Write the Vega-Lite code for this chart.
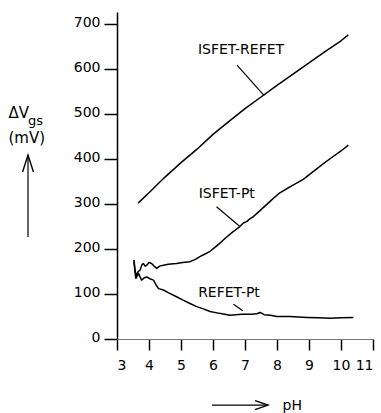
{
  "$schema": "https://vega.github.io/schema/vega-lite/v6.json",
  "autosize": {"type": "none"},
  "padding": {"left": 117, "top": 12, "right": 8, "bottom": 74},
  "width": 256,
  "height": 327,
  "background": "white",
  "config": {
    "view": {"stroke": null},
    "font": "DejaVu Sans",
    "axisX": {"labelOverlap": false},
    "axisY": {"labelOverlap": false},
    "title": {"font": "DejaVu Sans", "fontSize": 13, "fontWeight": "normal", "color": "black"}
  },
  "title": {"text": "gs", "anchor": "start", "frame": "group", "orient": "top", "baseline": "alphabetic", "offset": 0, "dx": -89, "dy": 126},
  "datasets": {
    "curves": [
      {"s": "ISFET-REFET", "ph": 3.66, "mv": 302}, {"s": "ISFET-REFET", "ph": 4.0, "mv": 325}, {"s": "ISFET-REFET", "ph": 4.5, "mv": 360}, {"s": "ISFET-REFET", "ph": 5.0, "mv": 392}, {"s": "ISFET-REFET", "ph": 5.5, "mv": 422}, {"s": "ISFET-REFET", "ph": 6.0, "mv": 455}, {"s": "ISFET-REFET", "ph": 6.5, "mv": 484}, {"s": "ISFET-REFET", "ph": 7.0, "mv": 512}, {"s": "ISFET-REFET", "ph": 7.5, "mv": 538}, {"s": "ISFET-REFET", "ph": 8.0, "mv": 564}, {"s": "ISFET-REFET", "ph": 8.5, "mv": 589}, {"s": "ISFET-REFET", "ph": 9.0, "mv": 614}, {"s": "ISFET-REFET", "ph": 9.5, "mv": 639}, {"s": "ISFET-REFET", "ph": 10.0, "mv": 663}, {"s": "ISFET-REFET", "ph": 10.23, "mv": 676},
      {"s": "ISFET-Pt", "ph": 3.53, "mv": 176}, {"s": "ISFET-Pt", "ph": 3.57, "mv": 150}, {"s": "ISFET-Pt", "ph": 3.61, "mv": 142}, {"s": "ISFET-Pt", "ph": 3.66, "mv": 150}, {"s": "ISFET-Pt", "ph": 3.72, "mv": 153}, {"s": "ISFET-Pt", "ph": 3.78, "mv": 165}, {"s": "ISFET-Pt", "ph": 3.82, "mv": 168}, {"s": "ISFET-Pt", "ph": 3.88, "mv": 162}, {"s": "ISFET-Pt", "ph": 3.93, "mv": 164}, {"s": "ISFET-Pt", "ph": 4.0, "mv": 170}, {"s": "ISFET-Pt", "ph": 4.08, "mv": 168}, {"s": "ISFET-Pt", "ph": 4.16, "mv": 162}, {"s": "ISFET-Pt", "ph": 4.24, "mv": 157}, {"s": "ISFET-Pt", "ph": 4.33, "mv": 162}, {"s": "ISFET-Pt", "ph": 4.45, "mv": 164}, {"s": "ISFET-Pt", "ph": 4.6, "mv": 166}, {"s": "ISFET-Pt", "ph": 4.86, "mv": 168}, {"s": "ISFET-Pt", "ph": 5.05, "mv": 170}, {"s": "ISFET-Pt", "ph": 5.28, "mv": 172}, {"s": "ISFET-Pt", "ph": 5.45, "mv": 177}, {"s": "ISFET-Pt", "ph": 5.59, "mv": 183}, {"s": "ISFET-Pt", "ph": 5.75, "mv": 189}, {"s": "ISFET-Pt", "ph": 5.91, "mv": 195}, {"s": "ISFET-Pt", "ph": 6.05, "mv": 203}, {"s": "ISFET-Pt", "ph": 6.2, "mv": 212}, {"s": "ISFET-Pt", "ph": 6.4, "mv": 225}, {"s": "ISFET-Pt", "ph": 6.6, "mv": 237}, {"s": "ISFET-Pt", "ph": 6.84, "mv": 250}, {"s": "ISFET-Pt", "ph": 6.95, "mv": 258}, {"s": "ISFET-Pt", "ph": 7.05, "mv": 261}, {"s": "ISFET-Pt", "ph": 7.15, "mv": 267}, {"s": "ISFET-Pt", "ph": 7.26, "mv": 272}, {"s": "ISFET-Pt", "ph": 7.4, "mv": 281}, {"s": "ISFET-Pt", "ph": 7.57, "mv": 292}, {"s": "ISFET-Pt", "ph": 7.8, "mv": 307}, {"s": "ISFET-Pt", "ph": 8.05, "mv": 323}, {"s": "ISFET-Pt", "ph": 8.3, "mv": 334}, {"s": "ISFET-Pt", "ph": 8.5, "mv": 342}, {"s": "ISFET-Pt", "ph": 8.82, "mv": 355}, {"s": "ISFET-Pt", "ph": 9.0, "mv": 365}, {"s": "ISFET-Pt", "ph": 9.2, "mv": 376}, {"s": "ISFET-Pt", "ph": 9.45, "mv": 390}, {"s": "ISFET-Pt", "ph": 9.7, "mv": 403}, {"s": "ISFET-Pt", "ph": 10.0, "mv": 418}, {"s": "ISFET-Pt", "ph": 10.23, "mv": 431},
      {"s": "REFET-Pt", "ph": 3.53, "mv": 172}, {"s": "REFET-Pt", "ph": 3.56, "mv": 150}, {"s": "REFET-Pt", "ph": 3.59, "mv": 135}, {"s": "REFET-Pt", "ph": 3.63, "mv": 140}, {"s": "REFET-Pt", "ph": 3.67, "mv": 146}, {"s": "REFET-Pt", "ph": 3.72, "mv": 138}, {"s": "REFET-Pt", "ph": 3.77, "mv": 131}, {"s": "REFET-Pt", "ph": 3.85, "mv": 136}, {"s": "REFET-Pt", "ph": 3.93, "mv": 138}, {"s": "REFET-Pt", "ph": 4.03, "mv": 134}, {"s": "REFET-Pt", "ph": 4.14, "mv": 131}, {"s": "REFET-Pt", "ph": 4.22, "mv": 120}, {"s": "REFET-Pt", "ph": 4.3, "mv": 112}, {"s": "REFET-Pt", "ph": 4.45, "mv": 109}, {"s": "REFET-Pt", "ph": 4.6, "mv": 103}, {"s": "REFET-Pt", "ph": 4.86, "mv": 94}, {"s": "REFET-Pt", "ph": 5.05, "mv": 87}, {"s": "REFET-Pt", "ph": 5.28, "mv": 79}, {"s": "REFET-Pt", "ph": 5.49, "mv": 72}, {"s": "REFET-Pt", "ph": 5.7, "mv": 67}, {"s": "REFET-Pt", "ph": 5.91, "mv": 61}, {"s": "REFET-Pt", "ph": 6.2, "mv": 57}, {"s": "REFET-Pt", "ph": 6.53, "mv": 53}, {"s": "REFET-Pt", "ph": 6.9, "mv": 55}, {"s": "REFET-Pt", "ph": 7.2, "mv": 55}, {"s": "REFET-Pt", "ph": 7.37, "mv": 56}, {"s": "REFET-Pt", "ph": 7.47, "mv": 59}, {"s": "REFET-Pt", "ph": 7.6, "mv": 54}, {"s": "REFET-Pt", "ph": 7.8, "mv": 53}, {"s": "REFET-Pt", "ph": 7.99, "mv": 50}, {"s": "REFET-Pt", "ph": 8.4, "mv": 50}, {"s": "REFET-Pt", "ph": 8.93, "mv": 48}, {"s": "REFET-Pt", "ph": 9.3, "mv": 47}, {"s": "REFET-Pt", "ph": 9.66, "mv": 46}, {"s": "REFET-Pt", "ph": 10.0, "mv": 47}, {"s": "REFET-Pt", "ph": 10.39, "mv": 48}
    ],
    "notes": [
      {"label": "ISFET-REFET", "ph": 6.875, "mv": 642},
      {"label": "ISFET-Pt", "ph": 6.43, "mv": 322},
      {"label": "REFET-Pt", "ph": 6.5, "mv": 102}
    ],
    "leaders": [
      {"ph": 6.75, "mv": 609, "ph2": 7.6, "mv2": 541},
      {"ph": 6.11, "mv": 294, "ph2": 6.84, "mv2": 250},
      {"ph": 6.64, "mv": 77, "ph2": 6.93, "mv2": 63}
    ],
    "arrows": [
      {"dir": "right", "ph": 5.97, "mv": -147, "ph2": 7.72, "mv2": -147},
      {"dir": "up", "ph": 0.219, "mv": 227, "ph2": 0.219, "mv2": 409}
    ]
  },
  "encoding": {
    "x": {"field": "ph", "type": "quantitative", "scale": {"domain": [3, 11], "nice": false, "zero": false},
      "axis": {"values": [3, 4, 5, 6, 7, 8, 9, 10, 11], "labelOverlap": false, "grid": false, "tickSize": 11, "tickWidth": 1.5, "tickColor": "black", "domainColor": "#777", "domainWidth": 1, "labelFontSize": 14, "labelColor": "black", "labelPadding": 8, "labelFont": "DejaVu Sans",
        "title": "pH", "titleFontSize": 14, "titleFontWeight": "normal", "titleColor": "black", "titleAlign": "left", "titleBaseline": "middle", "titleAnchor": "start", "titleX": 165, "titleY": 66, "titleFont": "DejaVu Sans"}},
    "y": {"field": "mv", "type": "quantitative", "scale": {"domain": [0, 727], "nice": false},
      "axis": {"values": [0, 100, 200, 300, 400, 500, 600, 700], "labelOverlap": false, "grid": false, "tickSize": 13, "tickWidth": 1.5, "tickColor": "black", "domainColor": "black", "domainWidth": 1.5, "labelFontSize": 14, "labelColor": "black", "labelPadding": 4, "labelBaseline": "middle", "labelOffset": -2, "labelFont": "DejaVu Sans",
        "title": ["ΔV", "(mV)"], "titleAngle": 0, "titleAlign": "left", "titleBaseline": "alphabetic", "titleX": -109, "titleY": 105, "titleFontSize": 15, "titleFontWeight": "normal", "titleColor": "black", "titleLineHeight": 25, "titleFont": "DejaVu Sans"}}
  },
  "layer": [
    {
      "data": {"name": "curves"},
      "mark": {"type": "line", "color": "black", "strokeWidth": 1.5, "strokeJoin": "round"},
      "encoding": {"detail": {"field": "s"}}
    },
    {
      "data": {"name": "notes"},
      "mark": {"type": "text", "fontSize": 14, "font": "DejaVu Sans", "align": "center", "baseline": "middle", "color": "black"},
      "encoding": {"text": {"field": "label"}}
    },
    {
      "data": {"name": "leaders"},
      "mark": {"type": "rule", "color": "black", "strokeWidth": 1.2},
      "encoding": {"x2": {"field": "ph2"}, "y2": {"field": "mv2"}}
    },
    {
      "data": {"name": "arrows"},
      "mark": {"type": "rule", "color": "black", "strokeWidth": 1.2},
      "encoding": {"x2": {"field": "ph2"}, "y2": {"field": "mv2"}}
    },
    {
      "data": {"name": "arrows"},
      "transform": [{"filter": "datum.dir === 'right'"}],
      "mark": {"type": "point", "shape": "M-1,-0.35L0,0L-1,0.35", "size": 676, "filled": false, "stroke": "black", "strokeWidth": 1.4, "opacity": 1},
      "encoding": {"x": {"field": "ph2", "type": "quantitative"}, "y": {"field": "mv2", "type": "quantitative"}}
    },
    {
      "data": {"name": "arrows"},
      "transform": [{"filter": "datum.dir === 'up'"}],
      "mark": {"type": "point", "shape": "M-0.32,1L0,0L0.32,1", "size": 1156, "filled": false, "stroke": "black", "strokeWidth": 1.4, "opacity": 1},
      "encoding": {"x": {"field": "ph2", "type": "quantitative"}, "y": {"field": "mv2", "type": "quantitative"}}
    }
  ]
}
